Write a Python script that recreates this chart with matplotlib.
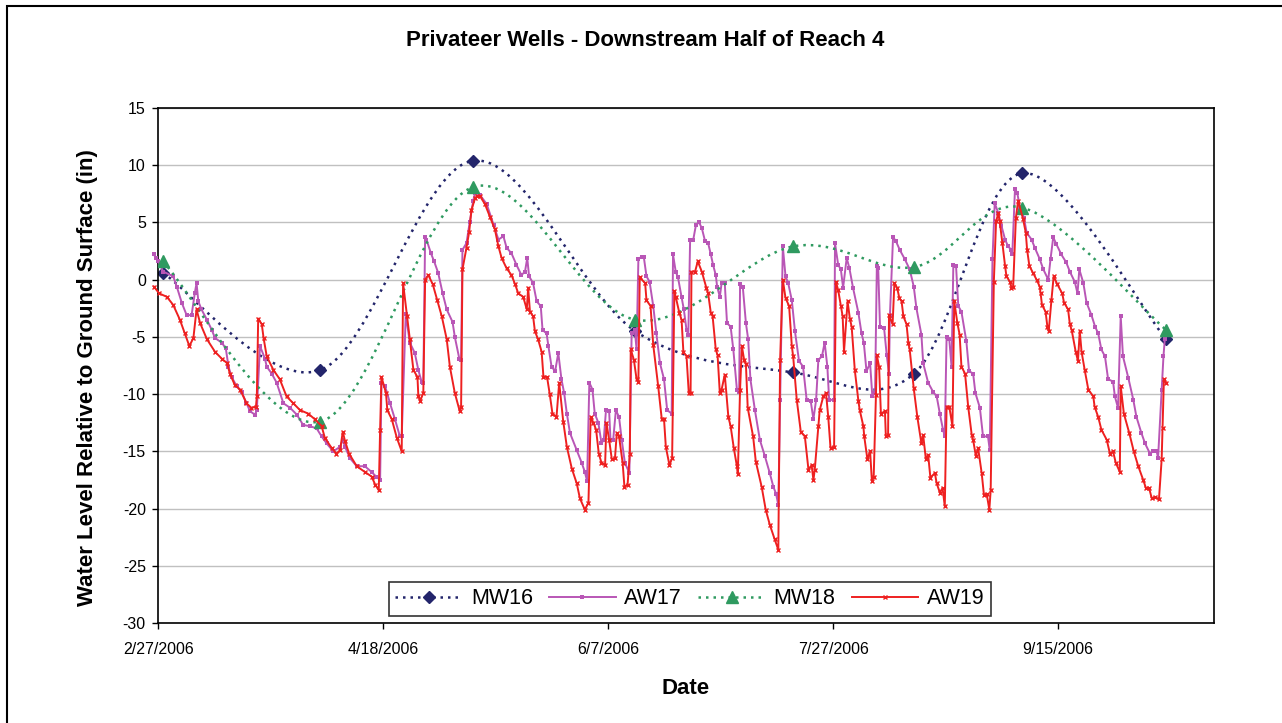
import numpy as np
import pandas as pd
import matplotlib
matplotlib.use('Agg')
import matplotlib.pyplot as plt
import matplotlib.dates as mdates
from matplotlib.path import Path
from matplotlib.patches import PathPatch, Rectangle
from matplotlib.lines import Line2D

plt.rcParams['font.family'] = ['Liberation Sans', 'DejaVu Sans']
plt.rcParams['axes.unicode_minus'] = False

start = pd.Timestamp('2006-02-27')

# monitoring well readings (manual)
mw_dates = ['2006-02-28', '2006-04-04', '2006-05-08', '2006-06-13',
            '2006-07-18', '2006-08-14', '2006-09-07', '2006-10-09']
mw16 = [0.6, -7.9, 10.4, -4.5, -8.1, -8.2, 9.3, -5.2]
mw18 = [1.6, -12.4, 8.1, -3.5, 2.9, 1.1, 6.3, -4.4]

# logger wells, days after 2/27/2006
aw17_day = [-1.0, -0.5, 0.0, 1.1, 3.3, 4.1, 5.2, 6.3, 7.4, 8.1, 8.5, 8.9, 9.6, 10.8, 11.9, 12.6,
            14.1, 15.0, 15.6, 16.3, 17.4, 18.5, 19.6, 20.4, 21.5, 21.9, 22.6, 23.7, 24.1, 25.2,
            26.3, 27.8, 29.3, 30.8, 32.2, 33.7, 35.2, 36.3, 37.4, 38.9, 40.4, 41.0, 41.5, 42.6,
            44.1, 45.9, 47.4, 48.4, 49.3, 49.6, 50.4, 51.5, 52.6, 53.7, 54.1, 55.0, 55.9, 57.0,
            57.8, 58.5, 58.9, 59.3, 59.6, 60.6, 61.3, 62.2, 63.2, 64.1, 65.4, 65.9, 66.9, 67.3,
            67.6, 68.5, 69.2, 70.0, 70.4, 71.5, 73.0, 74.5, 75.6, 76.7, 77.4, 78.5, 79.6, 80.7,
            81.5, 82.0, 82.4, 83.3, 84.1, 85.0, 85.4, 86.3, 86.7, 87.4, 88.2, 88.9, 89.6, 90.2,
            90.8, 91.5, 93.0, 94.1, 94.8, 95.3, 95.8, 96.5, 97.0, 97.8, 98.5, 99.0, 99.5, 100.2,
            100.5, 101.1, 101.7, 102.4, 103.0, 103.7, 104.7, 105.2, 105.9, 106.3, 106.7, 107.4,
            107.9, 108.5, 109.2, 110.0, 110.7, 111.5, 112.4, 113.1, 114.1, 114.4, 115.0, 115.5,
            116.3, 116.8, 117.4, 117.8, 118.2, 118.9, 119.5, 120.2, 120.8, 121.5, 122.2, 122.8,
            123.3, 123.9, 124.2, 124.8, 125.2, 125.9, 126.4, 127.2, 127.8, 128.6, 129.1, 129.3,
            129.9, 130.6, 131.1, 131.6, 132.6, 133.7, 134.8, 135.9, 136.7, 137.3, 137.8, 138.2,
            138.8, 139.4, 140.0, 140.8, 141.5, 142.4, 143.3, 144.1, 145.0, 145.6, 146.2, 146.7,
            147.5, 148.1, 148.7, 149.1, 150.2, 150.4, 151.1, 151.7, 152.2, 153.0, 153.6, 154.4,
            155.6, 156.3, 156.8, 157.4, 158.2, 158.7, 159.3, 159.7, 160.0, 160.4, 161.3, 161.9,
            162.4, 162.6, 163.3, 163.9, 164.8, 165.9, 167.0, 167.9, 168.5, 169.6, 170.0, 171.1,
            172.2, 173.0, 173.7, 174.4, 174.8, 175.2, 175.8, 176.3, 176.7, 177.3, 177.8, 178.5,
            179.6, 180.2, 181.1, 181.6, 182.6, 183.3, 184.4, 184.8, 185.4, 185.9, 186.7, 187.4,
            188.2, 188.9, 189.6, 189.8, 190.4, 190.9, 191.5, 192.4, 193.0, 194.1, 194.8, 195.9,
            196.7, 197.8, 198.3, 198.9, 199.6, 200.7, 201.8, 202.6, 203.7, 204.3, 204.7, 205.6,
            206.3, 207.4, 208.2, 208.9, 209.6, 210.4, 211.1, 212.2, 212.6, 213.3, 213.9, 214.4,
            215.6, 216.7, 217.4, 218.5, 219.3, 220.4, 221.1, 221.9, 222.2, 223.0, 223.4, 223.7]
aw17 = [2.2, 1.9, 1.6, 0.7, 0.3, -0.6, -2.0, -3.1, -3.1, -1.2, -0.3, -1.9, -2.6, -3.5, -4.4, -5.1,
        -5.5, -6.0, -7.6, -8.5, -9.3, -9.8, -10.8, -11.5, -11.8, -11.4, -5.8, -6.9, -7.6, -8.2,
        -9.0, -10.8, -11.2, -11.8, -12.7, -12.8, -13.0, -13.7, -14.3, -15.0, -14.6, -14.0, -14.6, -15.6,
        -16.3, -16.3, -16.8, -17.2, -17.5, -9.0, -9.3, -10.8, -12.2, -13.7, -13.7, -3.0, -5.5, -6.4,
        -7.9, -8.9, -9.0, 3.7, 3.5, 2.3, 1.6, 0.6, -1.2, -2.6, -3.7, -5.0, -6.9, -7.0,
        2.6, 3.2, 5.0, 6.9, 7.6, 7.4, 6.6, 4.8, 3.5, 3.8, 2.8, 2.3, 1.3, 0.4,
        0.7, 1.9, 0.3, -0.3, -1.9, -2.3, -4.4, -4.7, -5.8, -7.6, -8.0, -6.4, -8.7, -9.9,
        -11.7, -13.4, -14.9, -16.0, -16.8, -17.6, -9.0, -9.6, -11.7, -12.5, -14.3, -14.0, -11.4, -11.5,
        -14.0, -14.0, -11.4, -12.0, -14.0, -16.0, -16.9, -4.7, -4.4, -6.1, 1.8, 2.0,
        2.0, 0.3, -0.2, -2.3, -4.7, -7.3, -8.7, -11.4, -11.7, 2.2, 0.7, 0.2,
        -1.5, -2.6, -4.4, -4.8, 3.5, 3.5, 4.8, 5.0, 4.5, 3.4, 3.2, 2.2,
        1.3, 0.4, -0.6, -1.5, -0.3, -0.3, -3.8, -4.1, -6.1, -9.6, -9.8, -0.4,
        -0.6, -3.8, -5.2, -8.7, -11.4, -14.0, -15.4, -16.9, -18.1, -18.7, -19.7, -10.5,
        2.9, 0.3, -0.3, -1.8, -4.5, -7.1, -7.6, -10.5, -10.6, -12.2, -10.5, -7.0,
        -6.7, -5.5, -7.6, -10.5, -10.5, 3.2, 1.3, 0.9, -0.7, 1.9, 1.0, -0.7,
        -2.9, -4.7, -5.5, -8.0, -7.3, -10.2, -9.9, 1.2, 1.0, -4.1, -4.2, -6.6,
        -8.2, -3.2, 3.7, 3.4, 2.6, 1.8, 0.9, -0.6, -2.5, -4.8, -7.3, -9.0,
        -9.8, -10.2, -11.7, -13.1, -13.7, -5.0, -5.2, -7.6, 1.3, 1.2, -2.3, -2.8,
        -5.4, -8.0, -8.2, -9.9, -11.2, -13.7, -13.7, -14.9, 1.8, 6.7, 5.8, 4.7,
        3.5, 2.9, 2.6, 2.2, 7.9, 7.6, 6.3, 5.4, 4.1, 3.5, 2.8, 1.8,
        0.9, 0.0, 1.8, 3.7, 3.1, 2.2, 1.5, 0.7, -0.2, -1.2, 0.9, -0.3,
        -2.0, -3.1, -4.1, -4.7, -6.1, -6.7, -8.7, -8.9, -10.2, -11.2, -3.2, -6.7,
        -8.6, -10.5, -12.0, -13.4, -14.3, -15.2, -15.0, -15.0, -15.6, -9.6, -6.7, -5.2]

aw19_day = [-1.0, 0.2, 1.9, 3.3, 4.8, 5.9, 6.9, 7.8, 8.5, 9.3, 10.8, 12.6, 14.1, 15.3, 15.9, 17.0,
            18.2, 19.6, 20.7, 21.7, 21.9, 22.2, 23.0, 23.4, 24.1, 25.6, 27.0, 28.5, 30.0, 31.5,
            33.3, 34.8, 36.3, 37.0, 38.5, 39.6, 40.4, 41.0, 41.5, 42.4, 44.1, 45.9, 47.4, 48.2,
            49.0, 49.3, 49.6, 50.6, 50.9, 51.9, 53.0, 54.1, 54.4, 55.3, 55.9, 56.7, 57.6, 57.8,
            58.2, 58.9, 59.3, 60.0, 61.0, 62.0, 63.0, 64.1, 64.8, 65.9, 67.0, 67.3, 67.6, 68.5,
            69.1, 69.6, 70.4, 70.8, 71.5, 72.6, 73.7, 74.8, 75.6, 76.3, 77.4, 78.5, 79.3, 80.0,
            81.1, 81.9, 82.2, 82.6, 83.3, 83.7, 84.4, 85.2, 85.6, 86.4, 87.0, 87.6, 88.5, 89.1,
            90.0, 90.8, 91.9, 93.0, 93.7, 94.8, 95.6, 96.1, 96.7, 97.3, 97.9, 98.5, 99.3, 99.6,
            100.2, 100.8, 101.5, 101.9, 102.4, 103.2, 103.6, 104.3, 104.8, 105.0, 105.7, 106.3,
            106.7, 107.0, 108.2, 108.5, 109.4, 110.0, 111.1, 111.9, 112.4, 112.8, 113.6, 114.2,
            114.7, 115.0, 115.8, 116.3, 116.7, 117.4, 117.9, 118.3, 118.5, 119.3, 119.9, 120.8,
            121.8, 122.2, 122.8, 123.2, 123.9, 124.3, 124.8, 125.2, 125.9, 126.7, 127.2, 127.9,
            128.6, 128.8, 129.3, 129.7, 130.2, 130.6, 131.0, 132.2, 132.8, 134.1, 135.0, 135.9,
            137.0, 137.8, 138.2, 138.8, 139.4, 140.2, 140.8, 141.1, 141.9, 142.8, 143.7, 144.5,
            145.2, 145.6, 145.9, 146.7, 147.0, 147.8, 148.4, 148.9, 149.4, 150.2, 150.6, 151.1,
            151.7, 152.1, 152.4, 153.2, 153.7, 154.1, 154.8, 155.6, 155.9, 156.7, 156.9, 157.6,
            158.2, 158.6, 159.0, 159.5, 159.7, 160.2, 160.6, 161.5, 161.7, 162.2, 162.4, 163.2,
            163.6, 164.2, 164.7, 165.2, 165.6, 166.3, 166.7, 167.0, 167.9, 168.7, 169.6, 170.0,
            170.6, 171.1, 171.6, 172.6, 173.0, 173.7, 174.3, 174.8, 175.2, 175.8, 176.5, 176.9,
            177.6, 178.1, 178.5, 179.3, 180.0, 180.8, 181.1, 181.7, 182.2, 183.0, 183.5, 184.1,
            184.7, 185.0, 185.7, 186.2, 186.7, 187.0, 187.6, 188.2, 188.5, 189.3, 189.6, 190.0,
            190.6, 191.1, 192.2, 192.8, 193.1, 193.6, 194.4, 195.2, 195.9, 196.1, 196.4, 197.2,
            197.6, 197.9, 198.5, 199.0, 199.8, 200.9, 201.3, 202.2, 202.6, 203.0, 203.9, 204.4,
            204.8, 205.2, 205.9, 206.7, 207.8, 208.1, 208.9, 209.6, 210.8, 211.5, 212.2, 212.8,
            213.7, 213.9, 214.6, 215.8, 216.8, 217.8, 218.9, 219.5, 220.2, 220.8, 221.5, 222.4,
            223.0, 223.2, 223.5, 224.0]
aw19 = [-0.6, -1.2, -1.5, -2.2, -3.5, -4.7, -5.8, -5.1, -2.6, -3.8, -5.2, -6.3, -6.9, -7.3, -8.2, -9.2,
        -9.6, -10.8, -11.2, -11.1, -10.2, -3.4, -3.9, -5.1, -6.7, -7.9, -8.7, -10.2, -10.8, -11.4,
        -11.7, -12.2, -12.8, -13.8, -14.7, -15.2, -14.9, -13.3, -14.1, -15.2, -16.3, -16.8, -17.2, -17.9,
        -18.4, -13.1, -8.5, -9.9, -11.4, -12.2, -13.8, -15.0, -0.3, -3.2, -5.2, -7.9, -8.5, -10.2,
        -10.6, -9.9, 0.0, 0.4, -0.4, -1.8, -3.2, -5.2, -7.6, -9.9, -11.5, -11.1, 0.9, 2.8,
        4.2, 6.1, 7.1, 7.3, 7.3, 6.6, 5.5, 4.4, 2.9, 1.9, 1.0, 0.4, -0.4, -1.2,
        -1.5, -2.6, -0.7, -2.8, -3.2, -4.5, -5.2, -6.3, -8.5, -8.5, -10.0, -11.7, -12.0, -9.0,
        -12.4, -14.6, -16.5, -17.8, -19.1, -20.1, -19.5, -12.0, -12.5, -13.1, -15.2, -16.0, -16.2, -12.5,
        -14.0, -15.7, -15.6, -13.4, -13.7, -16.0, -18.1, -17.9, -15.2, -6.1, -7.0, -8.7,
        -8.9, 0.2, -0.3, -1.8, -2.3, -5.7, -9.3, -12.2, -12.2, -14.6, -16.2, -15.6,
        -1.0, -1.5, -2.9, -3.5, -6.3, -6.7, -9.9, -9.9, 0.7, 0.7, 1.6, 0.7,
        -0.7, -1.2, -2.9, -3.2, -6.1, -6.6, -9.9, -9.6, -8.3, -12.0, -12.8, -14.7,
        -16.3, -17.0, -9.6, -5.8, -7.0, -7.4, -11.2, -13.7, -15.9, -18.1, -20.1, -21.4,
        -22.7, -23.6, -7.0, 0.0, -1.6, -2.3, -5.8, -6.7, -10.5, -13.3, -13.7, -16.6,
        -16.2, -17.5, -16.6, -12.8, -11.4, -10.2, -9.9, -12.0, -14.7, -14.6, -0.2, -0.9,
        -2.3, -3.2, -6.3, -1.9, -3.4, -4.1, -7.9, -10.6, -11.4, -12.8, -13.7, -15.7,
        -15.0, -17.6, -17.2, -10.1, -6.6, -7.6, -11.7, -11.5, -13.7, -13.6, -3.1, -3.9,
        -0.3, -0.7, -1.6, -1.9, -3.2, -3.9, -5.5, -6.1, -9.5, -12.0, -14.3, -13.6,
        -15.7, -15.3, -17.3, -16.9, -17.8, -18.6, -18.2, -19.8, -11.1, -11.1, -12.8, -1.9,
        -3.8, -4.8, -7.6, -8.2, -11.1, -13.6, -14.0, -15.4, -14.7, -16.9, -18.8, -18.7,
        -20.1, -18.4, -0.2, 5.1, 5.8, 5.1, 3.2, 1.2, 0.3, -0.2, -0.7, -0.6,
        5.4, 6.9, 5.3, 4.1, 2.6, 1.2, 0.6, 0.0, -0.6, -1.2, -2.2, -2.8,
        -4.1, -4.5, -1.8, 0.3, -0.4, -1.2, -2.0, -2.6, -3.9, -4.4, -6.3, -7.1,
        -4.5, -6.3, -7.9, -9.6, -10.2, -11.1, -12.0, -13.1, -14.0, -15.2, -15.0, -16.0,
        -16.8, -9.3, -11.7, -13.4, -15.0, -16.3, -17.5, -18.2, -18.2, -19.1, -19.0, -19.2,
        -15.7, -13.0, -8.7, -9.0]

tick_dates = ['2006-02-27', '2006-04-18', '2006-06-07', '2006-07-27', '2006-09-15']
tick_labels = ['2/27/2006', '4/18/2006', '6/7/2006', '7/27/2006', '9/15/2006']

c_mw16 = '#23256b'
c_aw17 = '#b956b6'
c_mw18 = '#2f9a60'
c_aw19 = '#ee2020'
dots = (0, (1, 2))

x0 = mdates.date2num(start)
x_mw = mdates.date2num(pd.to_datetime(mw_dates))
x_aw17 = x0 + np.array(aw17_day)
x_aw19 = x0 + np.array(aw19_day)


def smooth_path(x, y):
    # Bezier path through the points, like a spreadsheet "smoothed line"
    p = np.column_stack([x, y]).astype(float)
    n = len(p)
    verts = [p[0]]
    codes = [Path.MOVETO]
    for i in range(n - 1):
        prev = p[i - 1] if i > 0 else p[i]
        nxt = p[i + 2] if i + 2 < n else p[i + 1]
        c1 = p[i] + (p[i + 1] - prev) / 6.0
        c2 = p[i + 1] - (nxt - p[i]) / 6.0
        verts += [c1, c2, p[i + 1]]
        codes += [Path.CURVE4] * 3
    return Path(verts, codes)


fig = plt.figure(figsize=(12.82, 7.23), dpi=100)
ax = fig.add_axes([158.3 / 1282, 1 - 623 / 723, 1056 / 1282, 515 / 723])

# MW16
ax.add_patch(PathPatch(smooth_path(x_mw, mw16), fill=False, edgecolor=c_mw16, lw=1.8,
                       linestyle=dots, zorder=2))
ax.plot(x_mw, mw16, ls='none', marker='D', ms=6.5, color=c_mw16, zorder=2)
# AW17
ax.plot(x_aw17, aw17, color=c_aw17, lw=1.4, marker='s', ms=2.4, mew=0, zorder=3, clip_on=False)
# MW18
ax.add_patch(PathPatch(smooth_path(x_mw, mw18), fill=False, edgecolor=c_mw18, lw=1.8,
                       linestyle=dots, zorder=4))
ax.plot(x_mw, mw18, ls='none', marker='^', ms=8, color=c_mw18, zorder=4)
# AW19
ax.plot(x_aw19, aw19, color=c_aw19, lw=1.4, marker='x', ms=3.5, mew=1.0, zorder=5, clip_on=False)

ax.set_xlim(x0, x0 + 234.7)
ax.set_ylim(-30, 15)
ax.set_yticks(np.arange(-30, 16, 5))
ax.set_xticks(mdates.date2num(pd.to_datetime(tick_dates)))
ax.set_xticklabels(tick_labels)
ax.tick_params(axis='both', direction='out', length=4, width=1, labelsize=11.5,
               colors='black')
ax.tick_params(axis='y', pad=5)
ax.tick_params(axis='x', pad=10)
ax.yaxis.grid(True, color='#c0c0c0', lw=1)
ax.set_axisbelow(True)
for s in ax.spines.values():
    s.set_color('black')
    s.set_linewidth(1.2)

handles = [
    Line2D([], [], color=c_mw16, ls=dots, lw=1.8, marker='D', ms=6.5),
    Line2D([], [], color=c_aw17, lw=1.4, marker='s', ms=2.4, mew=0),
    Line2D([], [], color=c_mw18, ls=dots, lw=1.8, marker='^', ms=8),
    Line2D([], [], color=c_aw19, lw=1.4, marker='x', ms=3.5, mew=1.0),
]
leg = ax.legend(handles, ['MW16', 'AW17', 'MW18', 'AW19'], loc='lower center',
                bbox_to_anchor=(0.5035, 0.014), borderaxespad=0, ncol=4, fontsize=15.5,
                frameon=True, fancybox=False, edgecolor='black', handlelength=3.1,
                handletextpad=0.4, columnspacing=0.75, borderpad=0.3, numpoints=1)
leg.get_frame().set_linewidth(1.2)
leg.set_zorder(10)

fig.text(645 / 1282, 1 - 40 / 723, 'Privateer Wells - Downstream Half of Reach 4',
         ha='center', va='center', fontsize=16, fontweight='bold')
fig.text(88 / 1282, 1 - 378 / 723, 'Water Level Relative to Ground Surface (in)',
         ha='center', va='center', rotation=90, fontsize=16, fontweight='bold')
fig.text(686 / 1282, 1 - 688 / 723, 'Date', ha='center', va='center',
         fontsize=16, fontweight='bold')

fig.patches.append(Rectangle((7 / 1282, -0.05), 1.2, 1 - 6 / 723 + 0.05, transform=fig.transFigure,
                             fill=False, edgecolor='black', lw=1.5))

fig.savefig('out.png', dpi=100)
